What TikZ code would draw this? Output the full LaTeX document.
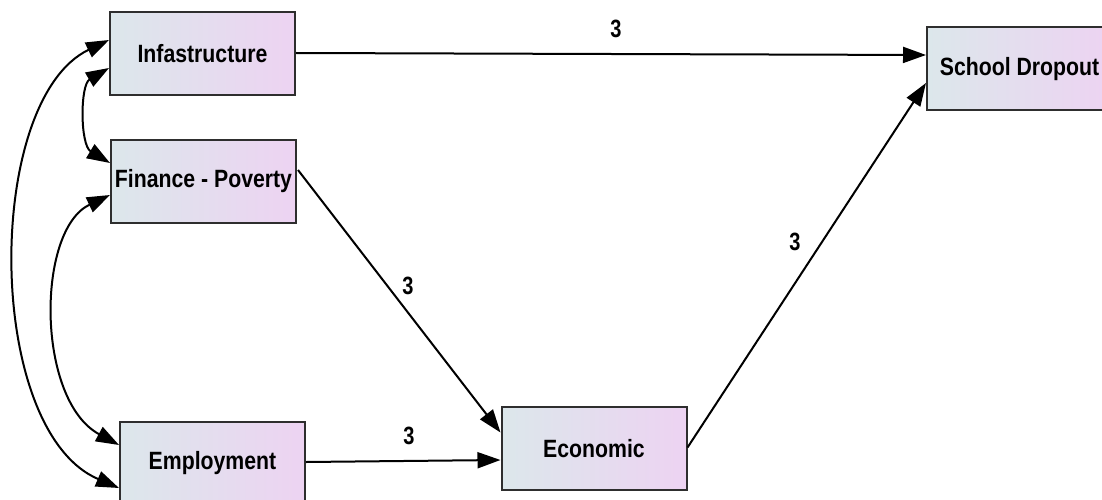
\documentclass[tikz,border=0pt]{standalone}
\usepackage{fontspec}
\setmainfont{Liberation Sans}
\usetikzlibrary{arrows.meta,calc}
\definecolor{boxleft}{HTML}{DCE7EB}
\definecolor{boxright}{HTML}{EDD3F2}
\definecolor{boxline}{HTML}{2E2E2E}
\newcommand{\boxtxt}[1]{\scalebox{0.85}[1]{\fontsize{25}{30}\selectfont\bfseries #1}}
\newcommand{\numtxt}[1]{\scalebox{0.8}[1]{\fontsize{25}{30}\selectfont\bfseries #1}}
\tikzset{
  varbox/.style={draw=boxline, line width=2pt, rectangle, left color=boxleft, right color=boxright,
    minimum width=185pt, minimum height=83pt, inner sep=0pt},
  path arrow/.style={draw=black, line width=2pt, -{Triangle[length=23pt,width=16pt]}},
  cov arrow/.style={draw=black, line width=2pt, {Triangle[length=23pt,width=16pt]}-{Triangle[length=23pt,width=16pt]}},
  lab/.style={inner sep=0pt}
}
\begin{document}
\begin{tikzpicture}[x=1pt,y=-1pt]
\useasboundingbox (0,0) rectangle (1102,500);
\clip (0,0) rectangle (1102,500);
\node[varbox] (inf) at (202.5,53.5) {\boxtxt{Infastructure}};
\node[varbox] (fin) at (203.5,181) {\boxtxt{Finance - Poverty}};
\node[varbox] (emp) at (212.5,463) {\boxtxt{Employment}};
\node[varbox] (eco) at (594,448.5) {\boxtxt{Economic}};
\node[varbox] (sch) at (1019.5,69) {\boxtxt{School Dropout}};

% directed paths
\draw[path arrow] ($(inf.east)+(0,-0.5)$) -- ($(sch.west)+(0,-14)$);
\draw[path arrow] ($(fin.east)+(1,-11)$) -- ($(eco.west)+(0,-16)$);
\draw[path arrow] ($(emp.east)+(0,-1)$) -- ($(eco.west)+(0,11.5)$);
\draw[path arrow] ($(eco.east)+(0,-1)$) -- ($(sch.west)+(0,14)$);

% covariances
\draw[cov arrow] ($(inf.west)+(0,-13.5)$) .. controls (-16,100) and (-16,430) .. ($(emp.west)+(0,25)$);
\draw[cov arrow] ($(inf.west)+(0,14.5)$) .. controls (80,85) and (80,145) .. ($(fin.west)+(0,-18)$);
\draw[cov arrow] ($(fin.west)+(0,14)$) .. controls (36,230) and (36,400) .. ($(emp.west)+(0,-18)$);

% labels
\node[lab] (l1) at (616,29) {\numtxt{3}};
\node[lab] (l2) at (408,286) {\numtxt{3}};
\node[lab] (l3) at (795,242) {\numtxt{3}};
\node[lab] (l4) at (409,436) {\numtxt{3}};
\end{tikzpicture}
\end{document}
